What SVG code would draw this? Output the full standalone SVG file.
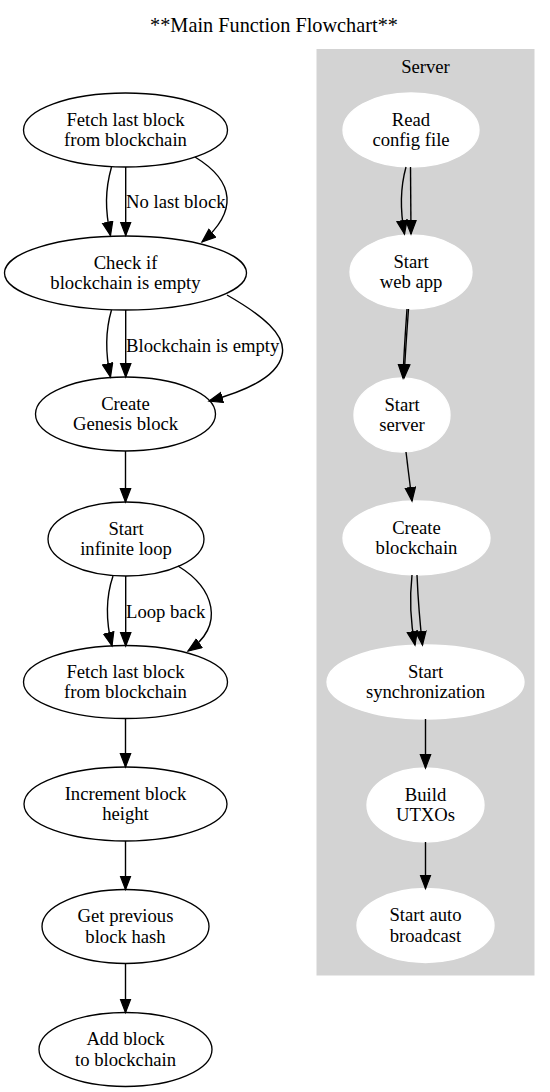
<svg xmlns="http://www.w3.org/2000/svg" width="550" height="1092" viewBox="0 0 550 1092">
<style>
text{font-family:"Liberation Serif","Times New Roman",serif;font-size:18.67px;fill:#000}
.c{text-anchor:middle}
.l{text-anchor:start}
.n ellipse{fill:#fff;stroke:#000;stroke-width:1.33}
.s ellipse{fill:#fff;stroke:#fff;stroke-width:1.33}
#edges path{fill:none;stroke:#000;stroke-width:1.4;marker-end:url(#ah)}
</style>
<defs>
<marker id="ah" markerUnits="userSpaceOnUse" markerWidth="18" markerHeight="14" refX="14" refY="6" orient="auto">
<path d="M0.5,0.8 L14,6 L0.5,11.2 z" fill="#000" stroke="#000" stroke-width="1.2"/>
</marker>
</defs>
<rect width="550" height="1092" fill="#fff"/>
<text class="c" x="274" y="31.5" style="font-size:20.3px">**Main Function Flowchart**</text>
<g id="cluster_server">
<rect x="317" y="49.5" width="217" height="925.5" fill="#d3d3d3" stroke="#d3d3d3"/>
<text class="c" x="425.5" y="73">Server</text>
</g>
<g id="n1" class="n"><ellipse cx="125.5" cy="130" rx="102" ry="37"/><text class="c" x="125.5" y="125.5">Fetch last block</text><text class="c" x="125.5" y="146">from blockchain</text></g>
<g id="n2" class="n"><ellipse cx="125.5" cy="273" rx="121" ry="37"/><text class="c" x="125.5" y="268.5">Check if</text><text class="c" x="125.5" y="289">blockchain is empty</text></g>
<g id="n3" class="n"><ellipse cx="125.5" cy="414" rx="90" ry="37"/><text class="c" x="125.5" y="409.5">Create</text><text class="c" x="125.5" y="430">Genesis block</text></g>
<g id="n4" class="n"><ellipse cx="126" cy="539" rx="78" ry="37"/><text class="c" x="126" y="534.5">Start</text><text class="c" x="126" y="555">infinite loop</text></g>
<g id="n5" class="n"><ellipse cx="125.5" cy="682" rx="102" ry="36.5"/><text class="c" x="125.5" y="677.5">Fetch last block</text><text class="c" x="125.5" y="698">from blockchain</text></g>
<g id="n6" class="n"><ellipse cx="125.5" cy="804" rx="101.5" ry="37"/><text class="c" x="125.5" y="799.5">Increment block</text><text class="c" x="125.5" y="820">height</text></g>
<g id="n7" class="n"><ellipse cx="125.5" cy="926.5" rx="83.5" ry="37"/><text class="c" x="125.5" y="922">Get previous</text><text class="c" x="125.5" y="942.5">block hash</text></g>
<g id="n8" class="n"><ellipse cx="125.5" cy="1049.5" rx="86.5" ry="37"/><text class="c" x="125.5" y="1045">Add block</text><text class="c" x="125.5" y="1065.5">to blockchain</text></g>
<g id="s1" class="s"><ellipse cx="411" cy="130" rx="68" ry="37"/><text class="c" x="411" y="125.5">Read</text><text class="c" x="411" y="146">config file</text></g>
<g id="s2" class="s"><ellipse cx="411" cy="272" rx="61" ry="37"/><text class="c" x="411" y="267.5">Start</text><text class="c" x="411" y="288">web app</text></g>
<g id="s3" class="s"><ellipse cx="402" cy="415" rx="48" ry="37"/><text class="c" x="402" y="410.5">Start</text><text class="c" x="402" y="431">server</text></g>
<g id="s4" class="s"><ellipse cx="416.5" cy="538" rx="73.5" ry="37"/><text class="c" x="416.5" y="533.5">Create</text><text class="c" x="416.5" y="554">blockchain</text></g>
<g id="s5" class="s"><ellipse cx="425.5" cy="682" rx="98.5" ry="37"/><text class="c" x="425.5" y="677.5">Start</text><text class="c" x="425.5" y="698">synchronization</text></g>
<g id="s6" class="s"><ellipse cx="425.5" cy="805" rx="58.5" ry="37"/><text class="c" x="425.5" y="800.5">Build</text><text class="c" x="425.5" y="821">UTXOs</text></g>
<g id="s7" class="s"><ellipse cx="425.5" cy="925.5" rx="68.5" ry="37"/><text class="c" x="425.5" y="921">Start auto</text><text class="c" x="425.5" y="941.5">broadcast</text></g>
<g id="edges">
<path d="M111.5,167 C105,190 105,210 110.5,235.5"/>
<path d="M125.7,167 L125.7,235.5"/>
<path d="M195,157 C236,182 237,212 202,242"/>
<path d="M111.5,310 C105,332 105,352 110.5,377"/>
<path d="M125.7,310 L125.7,377"/>
<path d="M227,295 C262,315 287,335 282,355 C278,375 250,390 209,401"/>
<path d="M125.5,451 L125.5,502"/>
<path d="M113,576 C105.5,598 105.5,620 112,646"/>
<path d="M125.7,576 L125.7,646"/>
<path d="M178,566 C214,588 226,625 188,651"/>
<path d="M125.5,718.5 L125.5,767"/>
<path d="M125.5,841 L125.5,889.5"/>
<path d="M125.5,963.5 L125.5,1012.5"/>
<path d="M406,167 C401,185 400,210 404.5,234"/>
<path d="M410.5,167 L411,234"/>
<path d="M407,309 C405.5,330 404,350 403,378"/>
<path d="M408.5,309 C407,330 405.5,350 404,378"/>
<path d="M406,452 L412,501"/>
<path d="M412,575 C409.5,598 410,620 415,645"/>
<path d="M417,575 C418,598 419.5,620 422.5,645"/>
<path d="M425.5,719 L425.5,768"/>
<path d="M425.5,842 L425.5,888.5"/>
</g>
<g id="edge_labels">
<text class="l" x="126" y="207.5">No last block</text>
<text class="l" x="126" y="352">Blockchain is empty</text>
<text class="l" x="126" y="618">Loop back</text>
</g>
</svg>
